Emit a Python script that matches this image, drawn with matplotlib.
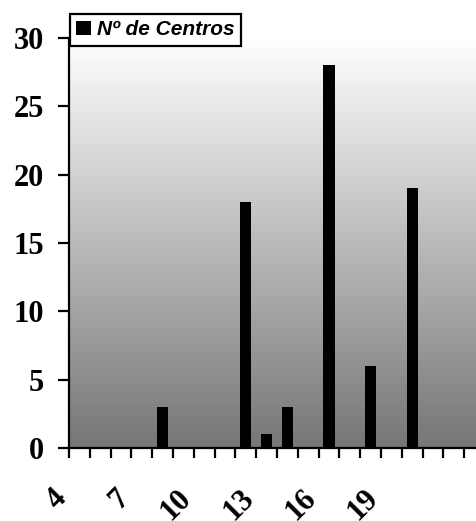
import numpy as np
import matplotlib
matplotlib.use("Agg")
import matplotlib.pyplot as plt
import matplotlib.transforms as mtransforms
from matplotlib.colors import LinearSegmentedColormap

# Data
categories = list(range(4, 24))
values = [0, 0, 0, 0, 3, 0, 0, 0, 18, 1, 3, 0, 28, 0, 6, 0, 19, 0, 0, 0]
shown_labels = [4, 7, 10, 13, 16, 19]
y_ticks = [0, 5, 10, 15, 20, 25, 30]
series_name = "Nº de Centros"

W, H = 476, 521
fig = plt.figure(figsize=(W / 100, H / 100), dpi=100)
left, right = 69 / W, 485 / W
bottom, top = 1 - 448 / H, 1 - 38 / H
ax = fig.add_axes([left, bottom, right - left, top - bottom])

x = np.arange(len(categories))
ax.set_xlim(-0.5, len(categories) - 0.5)
ax.set_ylim(0, 30)

# gradient background
cmap = LinearSegmentedColormap.from_list("g", ["#767676", "#ffffff"])
grad = np.linspace(0, 1, 256).reshape(-1, 1)
ax.imshow(grad, extent=[0, 1, 0, 1], transform=ax.transAxes, cmap=cmap,
          aspect="auto", origin="lower", zorder=0)

ax.bar(x, values, width=0.53, color="black", zorder=2, label=series_name)

for s in ["top", "right"]:
    ax.spines[s].set_visible(False)
for s in ["left", "bottom"]:
    ax.spines[s].set_linewidth(1.6)
    ax.spines[s].set_zorder(3)

ax.set_yticks(y_ticks)
ax.set_yticklabels([str(v) for v in y_ticks], fontfamily="Liberation Serif",
                   fontweight="bold", fontsize=22)
ax.tick_params(axis="y", direction="out", length=8, width=1.6, pad=10)

# minor ticks at category boundaries (tick marks), major at centers (labels)
ax.set_xticks(np.arange(-0.5, len(categories), 1.0), minor=True)
ax.tick_params(axis="x", which="minor", direction="out", length=7, width=1.6)
label_pos = [categories.index(c) for c in shown_labels]
ax.set_xticks(label_pos)
ax.set_xticklabels([str(c) for c in shown_labels], fontfamily="Liberation Serif",
                   fontweight="bold", fontsize=22, rotation=45, ha="right",
                   va="center", rotation_mode="anchor")
ax.tick_params(axis="x", which="major", length=0, pad=33)
offset = mtransforms.ScaledTranslation(-17 / 100, 0, fig.dpi_scale_trans)
for lbl in ax.get_xticklabels():
    lbl.set_transform(lbl.get_transform() + offset)

leg = ax.legend(loc="upper left", bbox_to_anchor=(70 / W, 1 - 14 / H),
                bbox_transform=fig.transFigure, borderaxespad=0,
                frameon=True, fancybox=False, handlelength=0.7, handleheight=0.7,
                handletextpad=0.3, borderpad=0.3,
                prop={"family": "Liberation Sans", "weight": "bold",
                      "style": "italic", "size": 15})
leg.get_frame().set_edgecolor("black")
leg.get_frame().set_linewidth(1.6)
leg.get_frame().set_facecolor("white")
leg.get_frame().set_alpha(1)
leg.set_zorder(5)

fig.savefig("out.png", dpi=100)
